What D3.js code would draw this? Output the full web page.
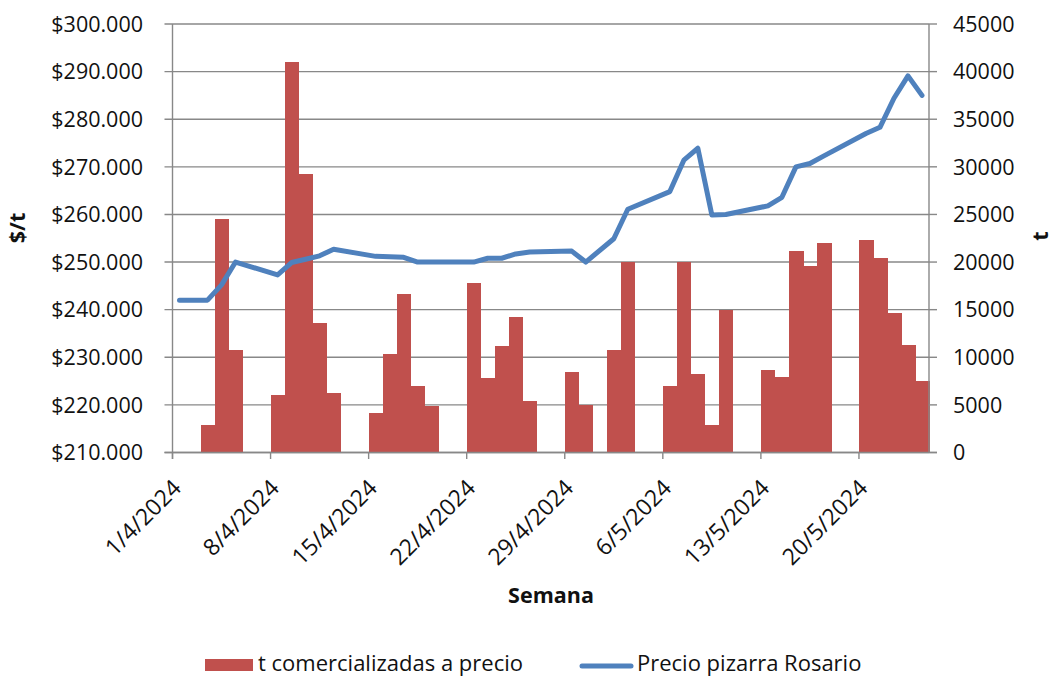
<!DOCTYPE html>
<html>
<head>
<meta charset="utf-8">
<script src="https://cdn.jsdelivr.net/npm/d3@7"></script>
<style>
  html, body { margin: 0; padding: 0; background: #fff; }
  svg { display: block; font-family: "Open Sans", sans-serif; }
</style>
</head>
<body>
<svg id="chart" width="1054" height="679"></svg>
<script>
// ---------- data ----------
const barDates = ["2024-04-03","2024-04-04","2024-04-05","2024-04-08","2024-04-09","2024-04-10","2024-04-11","2024-04-12",
  "2024-04-15","2024-04-16","2024-04-17","2024-04-18","2024-04-19","2024-04-22","2024-04-23","2024-04-24","2024-04-25","2024-04-26",
  "2024-04-29","2024-04-30","2024-05-02","2024-05-03","2024-05-06","2024-05-07","2024-05-08","2024-05-09","2024-05-10",
  "2024-05-13","2024-05-14","2024-05-15","2024-05-16","2024-05-17","2024-05-20","2024-05-21","2024-05-22","2024-05-23","2024-05-24"];
const barValues = [2900,24500,10800,6000,41000,29200,13600,6300,
  4200,10300,16600,7000,4900,17800,7800,11200,14200,5400,
  8500,5000,10800,20000,7000,20000,8200,2900,15000,
  8700,7900,21200,19600,22000,22300,20400,14700,11300,7500];

const lineDates = ["2024-04-01","2024-04-03","2024-04-04","2024-04-05","2024-04-08","2024-04-09","2024-04-10","2024-04-11","2024-04-12",
  "2024-04-15","2024-04-16","2024-04-17","2024-04-18","2024-04-19","2024-04-22","2024-04-23","2024-04-24","2024-04-25","2024-04-26",
  "2024-04-29","2024-04-30","2024-05-02","2024-05-03","2024-05-06","2024-05-07","2024-05-08","2024-05-09","2024-05-10",
  "2024-05-13","2024-05-14","2024-05-15","2024-05-16","2024-05-17","2024-05-20","2024-05-21","2024-05-22","2024-05-23","2024-05-24"];
const lineValues = [242000,242000,245200,250000,247300,249900,250600,251300,252700,
  251200,251100,251000,250000,250000,250000,250800,250800,251700,252100,
  252300,250000,254900,261100,264800,271400,273900,259900,260000,
  261800,263600,270000,270700,272300,277000,278300,284400,289100,285000];

const leftTicks = [210000,220000,230000,240000,250000,260000,270000,280000,290000,300000];
const rightTicks = [0,5000,10000,15000,20000,25000,30000,35000,40000,45000];
const xTickDates = ["2024-04-01","2024-04-08","2024-04-15","2024-04-22","2024-04-29","2024-05-06","2024-05-13","2024-05-20"];
const xDomain = ["2024-04-01","2024-05-25"];

const seriesNames = ["t comercializadas a precio","Precio pizarra Rosario"];
const colors = {bar: "#C0504D", line: "#4F81BD", grid: "#888888", text: "#111111"};

// ---------- layout ----------
const M = {left: 172.5, right: 929, top: 24, bottom: 452.5};
const svg = d3.select("#chart");

const d = s => new Date(s + "T00:00:00Z");
const x = d3.scaleUtc().domain(xDomain.map(d)).range([M.left, M.right]);
const yL = d3.scaleLinear().domain([210000, 300000]).range([M.bottom, M.top]);
const yR = d3.scaleLinear().domain([0, 45000]).range([M.bottom, M.top]);

const loc = d3.formatLocale({decimal: ",", thousands: ".", grouping: [3], currency: ["$", ""]});
const fmtL = v => "$" + loc.format(",")(v);
const fmtX = d3.utcFormat("%-d/%-m/%Y");
const fs = 21.5;
const fsX = 23;

// gridlines
svg.append("g").selectAll("line").data(leftTicks).join("line")
  .attr("x1", M.left - 8).attr("x2", M.right)
  .attr("y1", v => yL(v)).attr("y2", v => yL(v))
  .attr("stroke", colors.grid).attr("stroke-width", 1.4);

// bars
const dayW = x(d("2024-04-02")) - x(d("2024-04-01"));
svg.append("g").attr("shape-rendering", "crispEdges").selectAll("rect").data(barDates).join("rect")
  .attr("x", (s) => x(d(s)))
  .attr("width", dayW + 0.6)
  .attr("y", (s, i) => yR(barValues[i]))
  .attr("height", (s, i) => M.bottom - yR(barValues[i]))
  .attr("fill", colors.bar);

// line
const pts = lineDates.map((s, i) => [x(d(s)) + dayW / 2, yL(lineValues[i])]);
svg.append("path").attr("d", d3.line()(pts))
  .attr("fill", "none").attr("stroke", colors.line).attr("stroke-width", 5)
  .attr("stroke-linejoin", "round").attr("stroke-linecap", "round");

// axes
const axisG = svg.append("g").attr("stroke", colors.grid).attr("stroke-width", 1.4);
axisG.append("line").attr("x1", M.left).attr("x2", M.left).attr("y1", M.top).attr("y2", M.bottom + 6.5);
axisG.append("line").attr("x1", M.right).attr("x2", M.right).attr("y1", M.top).attr("y2", M.bottom);
axisG.append("line").attr("x1", M.left - 8).attr("x2", M.right + 8).attr("y1", M.bottom).attr("y2", M.bottom);
axisG.selectAll(".rt").data(rightTicks).join("line")
  .attr("x1", M.right).attr("x2", M.right + 8).attr("y1", v => yR(v)).attr("y2", v => yR(v));
axisG.selectAll(".xt").data(xTickDates).join("line")
  .attr("x1", s => x(d(s))).attr("x2", s => x(d(s))).attr("y1", M.bottom).attr("y2", M.bottom + 6.5);

// left tick labels
svg.append("g").selectAll("text").data(leftTicks).join("text")
  .attr("x", 143).attr("y", v => yL(v)).attr("dy", "0.36em")
  .attr("text-anchor", "end").attr("font-size", fs).attr("fill", colors.text)
  .text(fmtL);

// right tick labels
svg.append("g").selectAll("text").data(rightTicks).join("text")
  .attr("x", 953).attr("y", v => yR(v)).attr("dy", "0.36em")
  .attr("text-anchor", "start").attr("font-size", fs).attr("fill", colors.text)
  .text(v => String(v));

// x tick labels
svg.append("g").selectAll("text").data(xTickDates).join("text")
  .attr("transform", s => `translate(${x(d(s)) + 10},${M.bottom + 37}) rotate(-45)`)
  .attr("text-anchor", "end").attr("font-size", fsX).attr("fill", colors.text)
  .text(s => fmtX(d(s)));

// axis titles
svg.append("text").attr("x", 551).attr("y", 603).attr("text-anchor", "middle")
  .attr("font-size", fs).attr("font-weight", "bold").attr("fill", colors.text).text("Semana");
svg.append("text").attr("transform", "translate(25,228) rotate(-90)").attr("text-anchor", "middle")
  .attr("font-size", fs).attr("font-weight", "bold").attr("fill", colors.text).text("$/t");
svg.append("text").attr("transform", "translate(1048,236) rotate(-90)").attr("text-anchor", "middle")
  .attr("font-size", fs).attr("font-weight", "bold").attr("fill", colors.text).text("t");

// legend
const lg = svg.append("g");
lg.append("rect").attr("x", 205).attr("y", 659).attr("width", 48).attr("height", 12).attr("fill", colors.bar);
lg.append("text").attr("x", 258).attr("y", 671).attr("font-size", 22).attr("fill", colors.text).text(seriesNames[0]);
lg.append("line").attr("x1", 582).attr("x2", 631).attr("y1", 666).attr("y2", 666)
  .attr("stroke", colors.line).attr("stroke-width", 5).attr("stroke-linecap", "round");
lg.append("text").attr("x", 637).attr("y", 671).attr("font-size", 22).attr("fill", colors.text).text(seriesNames[1]);
</script>
</body>
</html>
